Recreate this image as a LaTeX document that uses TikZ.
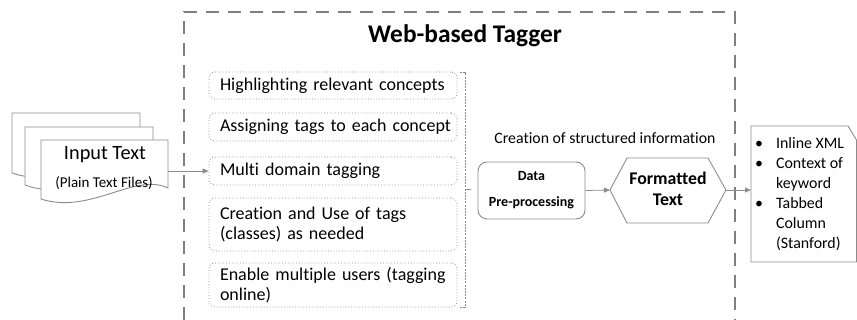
\documentclass[tikz,border=0pt]{standalone}
\usepackage{fontspec}
\setmainfont{Carlito}[Ligatures=NoCommon]
\usetikzlibrary{arrows.meta}
\definecolor{lg}{HTML}{8C8C8C}
\definecolor{dg}{HTML}{7F7F7F}
\newcommand\lbfont{\fontsize{18}{20}\selectfont\hyphenpenalty=10000 }
\tikzset{
  sheet/.style={draw=lg, line width=0.9pt, fill=white},
  listbox/.style={draw=lg, dotted, line width=0.8pt, rounded corners=6pt, inner xsep=11pt, inner ysep=0pt, text width=226pt, align=left, minimum width=248pt, font=\lbfont},
  arr/.style={draw=lg, line width=0.8pt, -{Triangle[length=6pt,width=5pt]}},
  frame/.style={draw=dg, line width=2.4pt, dash pattern=on 13pt off 9pt},
}
\begin{document}
\begin{tikzpicture}[x=1pt,y=-1pt]
\useasboundingbox (0,0) rectangle (857,320);
% big dashed frame
\draw[frame] (184,320) -- (184,12) -- (735,12) -- (735,320);
\node[font=\fontsize{25.4}{28}\selectfont\bfseries] (title) at (465,36) {Web-based Tagger};
% input documents
\draw[sheet] (12,113) -- (140,113) -- (140,165) .. controls (110,150) and (60,190) .. (12,173) -- cycle;
\draw[sheet] (25,127) -- (153,127) -- (153,178) .. controls (123,163) and (73,203) .. (25,185) -- cycle;
\draw[sheet] (41,140) -- (168,140) -- (168,188) .. controls (135,172) and (90,215) .. (41,199) -- cycle;
\node[font=\fontsize{20.3}{22}\selectfont] (input) at (105,155) {Input Text};
\node[font=\fontsize{15}{18}\selectfont] (plain) at (104,183) {(Plain Text Files)};
\coordinate (inR) at (168,171);
% list boxes
\node[listbox, minimum height=27pt] (b1) at (333,85.5) {\mbox{Highlighting relevant concepts}};
\node[listbox, minimum height=28pt] (b2) at (333,127) {\mbox{Assigning tags to each concept}};
\node[listbox, minimum height=28pt] (b3) at (333,171) {\mbox{Multi domain tagging}};
\node[listbox, minimum height=53pt] (b4) at (333,224.5) {\mbox{Creation and Use of tags}\\\mbox{(classes) as needed}};
\node[listbox, minimum height=44pt] (b5) at (333,285) {\mbox{Enable multiple users (tagging}\\\mbox{online)}};
\draw[arr] (inR) -- (b3.west);
% bracket
\coordinate (brT) at (465,72);
\coordinate (brB) at (465,307);
\coordinate (brM) at (465,189);
\draw[draw=lg, dashed, dash pattern=on 2pt off 1.2pt, line width=0.8pt] (460,72) -- (brT) -- (brB) -- (460,307);
\draw[draw=lg, line width=0.8pt] (brM) -- (471,189);
% creation label
\node[font=\fontsize{15.8}{18}\selectfont] (crea) at (605,138) {Creation of structured information};
% data box
\node[draw=lg, line width=0.9pt, rounded corners=9pt, minimum width=107pt, minimum height=57pt, align=center, font=\fontsize{14}{26}\selectfont\bfseries] (data) at (531.5,190.5) {Data\\Pre-processing};
% hexagon
\coordinate (fL) at (610,190);
\coordinate (fR) at (726,190);
\draw[draw=lg, line width=0.9pt] (fL) -- (627,158) -- (708,158) -- (fR) -- (708,223) -- (627,223) -- cycle;
\node[align=center, font=\fontsize{17.8}{21}\selectfont\bfseries] (fmt) at (668,189) {Formatted\\Text};
\draw[arr] (data.east) -- (fL);
% output document
\coordinate (oL) at (751,190);
\draw[sheet] (751,126) -- (848,126) -- (856.5,140) -- (856.5,262) -- (751,262) -- cycle;
\draw[arr] (fR) -- (oL);
\node[anchor=west, inner sep=0pt, font=\fontsize{15.9}{20}\selectfont] (out) at (755,195) {%
\begin{tabular}{@{}l@{\hspace{13pt}}l@{}}
\textbullet & Inline XML\\
\textbullet & Context of\\
 & keyword\\
\textbullet & Tabbed\\
 & Column\\
 & (Stanford)
\end{tabular}};
\end{tikzpicture}
\end{document}
